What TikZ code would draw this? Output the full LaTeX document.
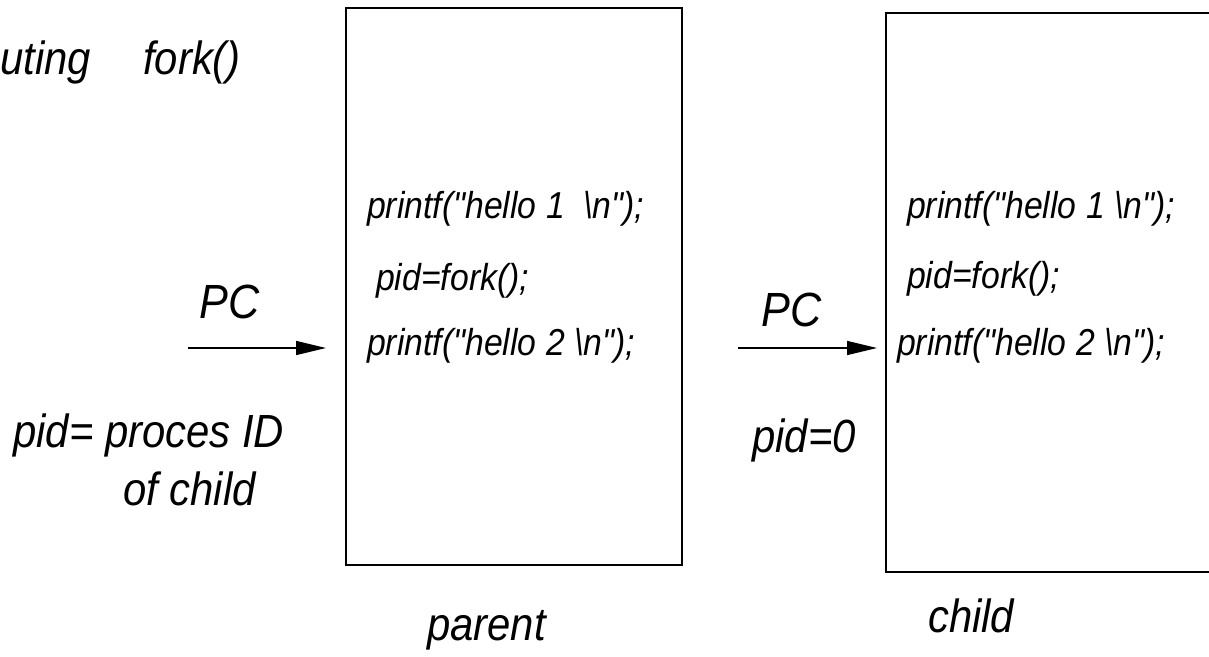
\documentclass[tikz,border=0pt]{standalone}
\usepackage{fontspec}
\newfontfamily\labfont{Liberation Sans}[FakeStretch=0.9]
\usetikzlibrary{arrows.meta}
\tikzset{
  memory/.style={draw, line width=2.4pt, inner sep=0pt},
  label/.style={anchor=base west, inner sep=0pt, font=\labfont\itshape\fontsize{46.5}{50}\selectfont},
  pclabel/.style={label, font=\labfont\itshape\fontsize{48}{50}\selectfont},
  code/.style={anchor=base west, inner sep=0pt, font=\labfont\itshape\fontsize{37.5}{40}\selectfont},
  pcarrow/.style={line width=1.5pt, -{Triangle[length=30pt, width=14pt]}}
}
\begin{document}
\begin{tikzpicture}[x=1pt, y=-1pt]
  \useasboundingbox (0,0) rectangle (1209,656);
  \clip (0,0) rectangle (1209,656);

  % address spaces of the two processes
  \node[memory, minimum width=336pt, minimum height=557pt, anchor=north west] (parent) at (345,7) {};
  \node[memory, minimum width=340pt, minimum height=559pt, anchor=north west] (child) at (885,12) {};

  % heading
  \node[label] (exec) at (0,74) {uting};
  \node[label] (forkcall) at (143,74) {fork()};

  % program text of the parent
  \node[code] (p1) at (367,218) {printf("hello 1 \ \textbackslash n");};
  \node[code] (p2) at (376,290) {pid=fork();};
  \node[code] (p3) at (367,355) {printf("hello 2 \textbackslash n");};

  % program text of the child
  \node[code] (c1) at (907,218) {printf("hello 1 \textbackslash n");};
  \node[code] (c2) at (907,288) {pid=fork();};
  \node[code] (c3) at (897,355) {printf("hello 2 \textbackslash n");};

  % program counters
  \node[pclabel] (pc1) at (199,318) {PC};
  \node[pclabel] (pc2) at (761,326) {PC};
  \coordinate (a1s) at (188,348);
  \coordinate (a1e) at (326,348);
  \coordinate (a2s) at (738,348);
  \coordinate (a2e) at (877,348);
  \draw[pcarrow] (a1s) -- (a1e);
  \draw[pcarrow] (a2s) -- (a2e);

  % return values of fork
  \node[label] (pidp) at (13,447) {pid= proces ID};
  \node[label] (pidp2) at (123,505) {of child};
  \node[label] (pidc) at (752,452) {pid=0};

  % captions
  \node[label] (plab) at (427,640) {parent};
  \node[label] (clab) at (928,632) {child};
\end{tikzpicture}
\end{document}
